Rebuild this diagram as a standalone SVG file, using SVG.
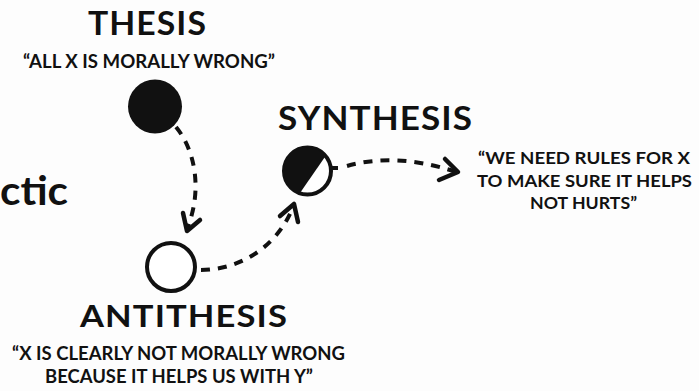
<svg xmlns="http://www.w3.org/2000/svg" width="699" height="391" viewBox="0 0 699 391">
  <style>
    text { font-family: Lato, "Noto Sans", "Liberation Sans", sans-serif; font-weight: 700; fill: #111; }
    .title { font-size: 32px; letter-spacing: 1px; }
    .quote { font-size: 18px; }
    .rq { font-size: 17px; }
    .conn { fill: none; stroke: #111; stroke-width: 4; stroke-dasharray: 9 8; }
    .head { fill: none; stroke: #111; stroke-width: 4.5; stroke-linecap: round; stroke-linejoin: round; }
    .ring { fill: #fff; stroke: #111; stroke-width: 4; }
  </style>
  <rect width="699" height="391" fill="#fdfdfd"/>

  <g id="fragment">
    <text x="0" y="205" style="font-size:40px" textLength="68" lengthAdjust="spacingAndGlyphs">ctic</text>
  </g>

  <g id="thesis">
    <text class="title" x="147.5" y="35" text-anchor="middle" textLength="119" lengthAdjust="spacingAndGlyphs">THESIS</text>
    <text class="quote" x="149" y="68" text-anchor="middle" textLength="252" lengthAdjust="spacingAndGlyphs">“ALL X IS MORALLY WRONG”</text>
    <circle cx="155" cy="106.5" r="27" fill="#111"/>
  </g>

  <g id="antithesis">
    <circle class="ring" cx="171" cy="267" r="24"/>
    <text class="title" x="184" y="327" text-anchor="middle" style="font-size:31px" textLength="208" lengthAdjust="spacingAndGlyphs">ANTITHESIS</text>
    <text class="quote" x="178.5" y="360" text-anchor="middle" textLength="333" lengthAdjust="spacingAndGlyphs">“X IS CLEARLY NOT MORALLY WRONG</text>
    <text class="quote" x="179" y="383" text-anchor="middle" textLength="268" lengthAdjust="spacingAndGlyphs">BECAUSE IT HELPS US WITH Y”</text>
  </g>

  <g id="synthesis">
    <text class="title" x="375.5" y="130" text-anchor="middle" style="font-size:33px" textLength="195" lengthAdjust="spacingAndGlyphs">SYNTHESIS</text>
    <circle class="ring" cx="307.5" cy="171" r="23.5"/>
    <path d="M299.8 193.2 A23.5 23.5 0 1 1 325.6 156.1 Z" fill="#111"/>
    <line x1="330" y1="168" x2="338" y2="168" stroke="#111" stroke-width="4"/>
  </g>

  <g id="synthesis-quote">
    <text class="rq" x="584" y="164" text-anchor="middle" textLength="212" lengthAdjust="spacingAndGlyphs">“WE NEED RULES FOR X</text>
    <text class="rq" x="584.5" y="186.5" text-anchor="middle" textLength="215" lengthAdjust="spacingAndGlyphs">TO MAKE SURE IT HELPS</text>
    <text class="rq" x="583.5" y="208.5" text-anchor="middle" textLength="107" lengthAdjust="spacingAndGlyphs">NOT HURTS”</text>
  </g>

  <g id="connectors">
    <path class="conn" d="M176 127 C195 150, 203 190, 187 229"/>
    <polyline class="head" points="183,213 187,231 200,220"/>
    <path class="conn" d="M201 270 C236 270, 276 250, 293 207"/>
    <polyline class="head" points="280,216 294,204 298,222"/>
    <path class="conn" d="M347 166 C375 158, 412 157, 456 172"/>
    <polyline class="head" points="445,159 458,172 439,180"/>
  </g>
</svg>
